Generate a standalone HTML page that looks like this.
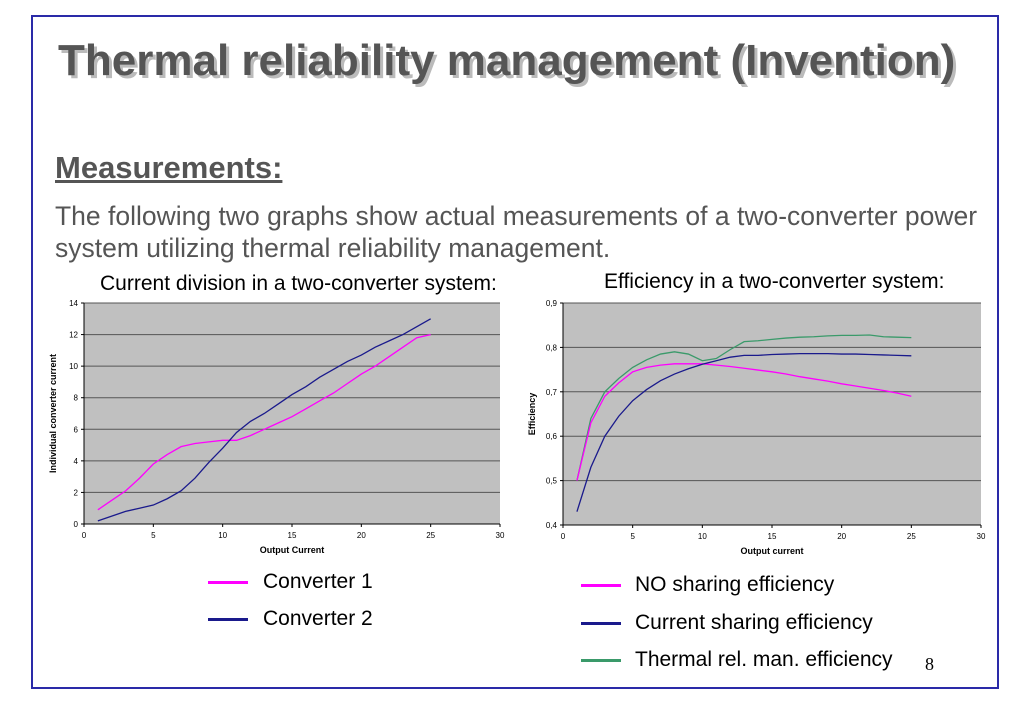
<!DOCTYPE html>
<html><head><meta charset="utf-8"><style>
body{margin:0;background:#fff;width:1023px;height:708px;position:relative;overflow:hidden;font-family:"Liberation Sans",Arial,sans-serif}
.frame{position:absolute;left:31px;top:15px;width:964px;height:670px;border:2px solid #2a2aa8}
.t{position:absolute;white-space:nowrap}
</style></head><body>
<div class="frame"></div>
<div class="t" style="left:58px;top:36px;font-size:44px;font-weight:bold;color:#555;text-shadow:3px 3px 0 #bbb">Thermal reliability management (Invention)</div>
<div class="t" style="left:55px;top:150px;font-size:31px;font-weight:bold;color:#555;text-decoration:underline">Measurements:</div>
<div class="t" style="left:55px;top:200px;font-size:26.5px;color:#555;line-height:32px">The following two graphs show actual measurements of a two-converter power<br>system utilizing thermal reliability management.</div>
<div class="t" style="left:100px;top:272px;font-size:21px;color:#000">Current division in a two-converter system:</div>
<div class="t" style="left:604px;top:270px;font-size:21px;color:#000">Efficiency in a two-converter system:</div>
<svg width="1023" height="708" style="position:absolute;left:0;top:0" id="svg"></svg>
<div class="t" style="left:208px;top:570px;font-size:21px"><span style="display:inline-block;width:40px;height:3px;background:#ff00ff;vertical-align:middle;margin-right:15px"></span>Converter 1</div>
<div class="t" style="left:208px;top:607px;font-size:21px"><span style="display:inline-block;width:40px;height:3px;background:#1a1a8c;vertical-align:middle;margin-right:15px"></span>Converter 2</div>
<div class="t" style="left:581px;top:573px;font-size:21px"><span style="display:inline-block;width:40px;height:3px;background:#ff00ff;vertical-align:middle;margin-right:14px"></span>NO sharing efficiency</div>
<div class="t" style="left:581px;top:611px;font-size:21px"><span style="display:inline-block;width:40px;height:3px;background:#1a1a8c;vertical-align:middle;margin-right:14px"></span>Current sharing efficiency</div>
<div class="t" style="left:581px;top:648px;font-size:21px"><span style="display:inline-block;width:40px;height:3px;background:#3a9a6a;vertical-align:middle;margin-right:14px"></span>Thermal rel. man. efficiency</div>
<div class="t" style="left:925px;top:654px;font-size:18px;font-family:'Liberation Serif',serif">8</div>
<script>
const xs=[1,2,3,4,5,6,7,8,9,10,11,12,13,14,15,16,17,18,19,20,21,22,23,24,25];
const conv1=[0.9,1.5,2.1,2.9,3.8,4.4,4.9,5.1,5.2,5.3,5.3,5.6,6.0,6.4,6.8,7.3,7.8,8.3,8.9,9.5,10.0,10.6,11.2,11.8,12.0];
const conv2=[0.2,0.5,0.8,1.0,1.2,1.6,2.1,2.9,3.9,4.8,5.8,6.5,7.0,7.6,8.2,8.7,9.3,9.8,10.3,10.7,11.2,11.6,12.0,12.5,13.0];
const effNo=[0.50,0.63,0.69,0.72,0.745,0.755,0.76,0.763,0.763,0.763,0.76,0.757,0.753,0.749,0.745,0.74,0.734,0.729,0.724,0.718,0.713,0.708,0.703,0.697,0.69];
const effShare=[0.43,0.53,0.60,0.645,0.68,0.705,0.725,0.74,0.752,0.762,0.77,0.778,0.782,0.782,0.784,0.785,0.786,0.786,0.786,0.785,0.785,0.784,0.783,0.782,0.781];
const effThermal=[0.50,0.64,0.70,0.73,0.755,0.772,0.785,0.79,0.785,0.77,0.775,0.795,0.813,0.815,0.818,0.821,0.823,0.824,0.826,0.827,0.827,0.828,0.824,0.823,0.822];
const xTicks=[0,5,10,15,20,25,30];
const yTicksL=[0,2,4,6,8,10,12,14];
const yTicksR=["0,4","0,5","0,6","0,7","0,8","0,9"];
const svg=document.getElementById('svg');const NS='http://www.w3.org/2000/svg';
function mk(tag,a,parent){const e=document.createElementNS(NS,tag);for(const k in a)e.setAttribute(k,a[k]);(parent||svg).appendChild(e);return e;}
function chart(name,x0,x1,y0,y1,ymin,ymax,yLabels,yTitle,xTitle,series){
  const g=mk('g',{});
  
  
  const sx=v=>x0+(v-0)/30*(x1-x0), sy=v=>y1-(v-ymin)/(ymax-ymin)*(y1-y0);
  const bg=mk('rect',{x:x0,y:y0,width:x1-x0,height:y1-y0,fill:'#c0c0c0'},g);
  
  
  const n=yLabels.length;
  yLabels.forEach((lab,i)=>{const v=ymin+i*(ymax-ymin)/(n-1);const y=sy(v);
    if(i>0)mk('line',{x1:x0,x2:x1,y1:y,y2:y,stroke:'#555','stroke-width':1},g);
    mk('line',{x1:x0-3,x2:x0,y1:y,y2:y,stroke:'#000'},g);
    const t=mk('text',{x:x0-6,y:y+3,'font-size':8,'text-anchor':'end','font-family':'Liberation Sans'},g);t.textContent=lab;
    
    });
  xTicks.forEach(v=>{const x=sx(v);mk('line',{x1:x,x2:x,y1:y1,y2:y1+3,stroke:'#000'},g);
    const t=mk('text',{x:x,y:y1+14,'font-size':8,'text-anchor':'middle','font-family':'Liberation Sans'},g);t.textContent=v;
    
    });
  mk('line',{x1:x0,x2:x1,y1:y1,y2:y1,stroke:'#000'},g);mk('line',{x1:x0,x2:x0,y1:y0,y2:y1,stroke:'#000'},g);
  const xt=mk('text',{x:(x0+x1)/2,y:y1+29,'font-size':9,'font-weight':'bold','text-anchor':'middle','font-family':'Liberation Sans'},g);xt.textContent=xTitle;
  
  
  const cy=(y0+y1)/2,cx=x0-28;
  const yt=mk('text',{x:cx,y:cy,'font-size':9,'font-weight':'bold','text-anchor':'middle','font-family':'Liberation Sans',transform:`rotate(-90 ${cx} ${cy})`},g);yt.textContent=yTitle;
  
  
  series.forEach(s=>{const p=mk('polyline',{points:xs.map((x,i)=>sx(x)+','+sy(s.d[i])).join(' '),fill:'none',stroke:s.c,'stroke-width':1.3},g);
    
    });
}
chart('current-division-chart',84,500,303,524,0,14,yTicksL,'Individual converter current','Output Current',
 [{d:conv1,c:'#ff00ff',n:'converter-1-line'},{d:conv2,c:'#1a1a8c',n:'converter-2-line'}]);
chart('efficiency-chart',563,981,303,525,0.4,0.9,yTicksR,'Efficiency','Output current',
 [{d:effThermal,c:'#3a9a6a',n:'thermal-efficiency-line'},{d:effNo,c:'#ff00ff',n:'no-sharing-line'},{d:effShare,c:'#1a1a8c',n:'current-sharing-line'}]);
</script>
</body></html>
